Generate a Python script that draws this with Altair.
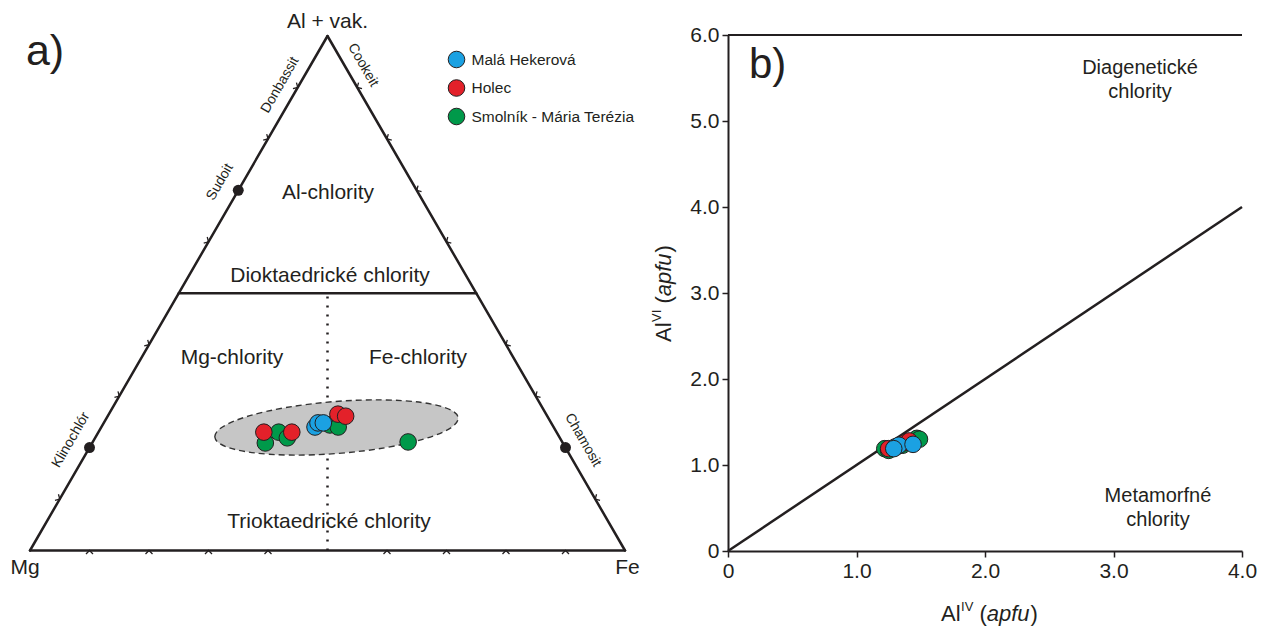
import altair as alt
import pandas as pd

# ---------------- data ----------------
sites = ["Malá Hekerová", "Holec", "Smolník - Mária Terézia"]
site_colors = ["#1ba1e2", "#e3212a", "#00994a"]

# panel a) ternary plot: fractions of (Al + vacancy) and Fe; Mg = 1 - Al - Fe
a_site = (["Smolník - Mária Terézia"] * 6 + ["Malá Hekerová"] * 3 + ["Holec"] * 4)
a_al = [0.209, 0.230, 0.219, 0.244, 0.240, 0.211, 0.240, 0.248, 0.248, 0.230, 0.230, 0.265, 0.261]
a_fe = [0.291, 0.303, 0.323, 0.382, 0.398, 0.530, 0.359, 0.360, 0.369, 0.278, 0.325, 0.385, 0.400]

# end members on the triangle edges
em_name = ["Sudoit", "Klinochlór", "Chamosit"]
em_al = [0.7, 0.2, 0.2]
em_fe = [0.0, 0.0, 0.8]

# edge graduation marks (fraction along each edge)
tick_left = [0.1, 0.3, 0.4, 0.6, 0.8, 0.9]
tick_right = [0.1, 0.3, 0.4, 0.6, 0.7, 0.8, 0.9]
tick_bottom = [0.1, 0.2, 0.3, 0.4, 0.6, 0.7, 0.8, 0.9]

# panel b) AlIV vs AlVI (apfu)
b_site = (["Smolník - Mária Terézia"] * 5 + ["Holec"] * 4 + ["Malá Hekerová"] * 4)
b_aliv = [1.22, 1.25, 1.36, 1.47, 1.49, 1.25, 1.38, 1.41, 1.30, 1.31, 1.33, 1.44, 1.29]
b_alvi = [1.19, 1.17, 1.23, 1.31, 1.30, 1.19, 1.26, 1.28, 1.21, 1.21, 1.23, 1.24, 1.19]

# ---------------- layout ----------------
FONT = "Liberation Sans"
INK = "#231f20"
PAD_L, PAD_T, W, H = 728, 35, 514, 516
PAD_R = 1269 - PAD_L - W
PAD_B = 628 - PAD_T - H
# where the ternary triangle sits on the page (pixels)
TRI_X0, TRI_X1, TRI_YB, TRI_YT = 30.0, 625.0, 550.5, 36.0
TW, TH = TRI_X1 - TRI_X0, TRI_YB - TRI_YT

xa_scale = alt.Scale(domain=[(PAD_L - TRI_X0) / TW, (PAD_L + W - TRI_X0) / TW], nice=False, zero=False)
ya_scale = alt.Scale(domain=[(TRI_YB - PAD_T - H) / TH, (TRI_YB - PAD_T) / TH], nice=False, zero=False)


def XA(f):
    return alt.X(f, type="quantitative", scale=xa_scale, axis=None)


def YA(f):
    return alt.Y(f, type="quantitative", scale=ya_scale, axis=None)


def tern(al, fe):
    return fe + al / 2.0, al


# samples
sx, sy = zip(*[tern(a, f) for a, f in zip(a_al, a_fe)])
df_a = pd.DataFrame({"site": a_site, "X": sx, "Y": sy})

ex, ey = zip(*[tern(a, f) for a, f in zip(em_al, em_fe)])
df_em = pd.DataFrame({"name": em_name, "X": ex, "Y": ey})

# triangle frame and boundaries
corners = {"Mg": tern(0, 0), "Fe": tern(0, 1), "Al": tern(1, 0)}
edges = pd.DataFrame([
    {"X": corners["Mg"][0], "Y": corners["Mg"][1], "X2": corners["Fe"][0], "Y2": corners["Fe"][1]},
    {"X": corners["Fe"][0], "Y": corners["Fe"][1], "X2": corners["Al"][0], "Y2": corners["Al"][1]},
    {"X": corners["Al"][0], "Y": corners["Al"][1], "X2": corners["Mg"][0], "Y2": corners["Mg"][1]},
    {"X": tern(0.5, 0)[0], "Y": 0.5, "X2": tern(0.5, 0.5)[0], "Y2": 0.5},
])
dotted = pd.DataFrame([{"X": 0.5, "Y": 0.0, "X2": 0.5, "Y2": 0.5}])

ticks = ([{"X": tern(a, 0)[0], "Y": a, "ang": 120} for a in tick_left]
         + [{"X": tern(a, 1 - a)[0], "Y": a, "ang": 240} for a in tick_right]
         + [{"X": f, "Y": 0.0, "ang": 0} for f in tick_bottom])
df_ticks = pd.DataFrame(ticks)

ell = pd.DataFrame([{"X": 0.5151, "Y": 0.2391}])
ELL_SHAPE = "M-1,0A1,0.213,0,0,1,1,0A1,0.213,0,0,1,-1,0Z"

labels_a = pd.DataFrame([
    {"t": "a)", "X": 0.0252, "Y": 0.969, "fs": 43, "ang": 0},
    {"t": "Al + vak.", "X": 0.5, "Y": 1.027, "fs": 21, "ang": 0},
    {"t": "Mg", "X": -0.0084, "Y": -0.034, "fs": 21, "ang": 0},
    {"t": "Fe", "X": 1.0042, "Y": -0.034, "fs": 21, "ang": 0},
    {"t": "Al-chlority", "X": 0.5008, "Y": 0.695, "fs": 21, "ang": 0},
    {"t": "Dioktaedrické chlority", "X": 0.5042, "Y": 0.534, "fs": 21, "ang": 0},
    {"t": "Mg-chlority", "X": 0.3395, "Y": 0.3741, "fs": 21, "ang": 0},
    {"t": "Fe-chlority", "X": 0.6521, "Y": 0.3741, "fs": 21, "ang": 0},
    {"t": "Trioktaedrické chlority", "X": 0.5025, "Y": 0.0555, "fs": 21, "ang": 0},
    {"t": "Donbassit", "X": 0.4202, "Y": 0.9047, "fs": 14, "ang": 300},
    {"t": "Cookeit", "X": 0.5597, "Y": 0.9436, "fs": 14, "ang": 60},
    {"t": "Sudoit", "X": 0.3193, "Y": 0.7162, "fs": 14, "ang": 300},
    {"t": "Klinochlór", "X": 0.0689, "Y": 0.2148, "fs": 14, "ang": 300},
    {"t": "Chamosit", "X": 0.9294, "Y": 0.2148, "fs": 14, "ang": 60},
])

fill_enc = alt.Fill(
    "site:N",
    scale=alt.Scale(domain=sites, range=site_colors),
    legend=alt.Legend(
        orient="none", legendX=447.5 - PAD_L, legendY=50.5 - PAD_T, title=None,
        symbolType="circle", symbolSize=275, symbolStrokeColor=INK, symbolStrokeWidth=1,
        symbolOpacity=1, labelFont=FONT, labelFontSize=15.5, labelColor=INK, labelLimit=400,
        rowPadding=6.5, labelOffset=6, padding=0,
    ),
)

lines_a = alt.Chart(edges).mark_rule(color=INK, strokeWidth=2.5, strokeCap="round").encode(
    x=XA("X"), y=YA("Y"), x2="X2", y2="Y2")
dots_a = alt.Chart(dotted).mark_rule(color=INK, strokeWidth=2.5, strokeDash=[2, 7]).encode(
    x=XA("X"), y=YA("Y"), x2="X2", y2="Y2")
ticks_a = alt.Chart(df_ticks).mark_point(
    shape="M-1,1L0,0L1,1", filled=False, size=49, stroke=INK, strokeWidth=1.3, opacity=1
).encode(x=XA("X"), y=YA("Y"), angle=alt.Angle("ang:Q", scale=None))
ellipse_a = alt.Chart(ell).mark_point(
    shape=ELL_SHAPE, size=244 ** 2, angle=355.5, filled=True, fill="#c6c6c6", stroke="#333333",
    strokeWidth=1.4, strokeDash=[6, 4], opacity=1
).encode(x=XA("X"), y=YA("Y"))
em_a = alt.Chart(df_em).mark_point(filled=True, size=120, color=INK, opacity=1).encode(
    x=XA("X"), y=YA("Y"))
pts_a = alt.Chart(df_a).mark_point(filled=True, size=275, stroke=INK, strokeWidth=1, opacity=1).encode(
    x=XA("X"), y=YA("Y"), fill=fill_enc)
text_a = alt.Chart(labels_a).mark_text(font=FONT, color=INK, align="center", baseline="middle").encode(
    x=XA("X"), y=YA("Y"), text="t:N",
    size=alt.Size("fs:Q", scale=None), angle=alt.Angle("ang:Q", scale=None))

panel_a = alt.layer(lines_a, dots_a, ticks_a, ellipse_a, em_a, pts_a, text_a)

# ---------------- panel b ----------------
LBL = "datum.value == 0 ? '0' : format(datum.value, '.1f')"
axis_common = dict(grid=False, title=None, domainColor=INK, domainWidth=2, tickColor=INK, tickWidth=1.5,
                   tickSize=6, labelFont=FONT, labelFontSize=21, labelColor=INK, labelExpr=LBL,
                   labelOverlap=False, labelFlush=False)
xb_scale = alt.Scale(domain=[0, 4], nice=False, zero=False)
yb_scale = alt.Scale(domain=[0, 6], nice=False, zero=False)


def XB(f):
    return alt.X(f, type="quantitative", scale=xb_scale,
                 axis=alt.Axis(orient="bottom", values=[0, 1, 2, 3, 4], labelPadding=3, **axis_common))


def YB(f):
    return alt.Y(f, type="quantitative", scale=yb_scale,
                 axis=alt.Axis(orient="left", values=[0, 1, 2, 3, 4, 5, 6], labelPadding=3, **axis_common))


df_b = pd.DataFrame({"site": b_site, "bx": b_aliv, "by": b_alvi})
diag = pd.DataFrame([{"bx": 0.0, "by": 0.0, "bx2": 4.0, "by2": 4.0}])
frame_top = pd.DataFrame([{"bx": 0.0, "by": 6.0, "bx2": 4.0, "by2": 6.0}])
labels_b = pd.DataFrame([
    {"t": "Diagenetické", "bx": 3.206, "by": 5.616},
    {"t": "chlority", "bx": 3.206, "by": 5.337},
    {"t": "Metamorfné", "bx": 3.346, "by": 0.640},
    {"t": "chlority", "bx": 3.346, "by": 0.360},
])
tag_b = pd.DataFrame([{"t": "b)", "bx": 0.163, "by": 5.5}])

diag_b = alt.Chart(diag).mark_rule(color=INK, strokeWidth=2.5).encode(
    x=XB("bx"), y=YB("by"), x2="bx2", y2="by2")
top_b = alt.Chart(frame_top).mark_rule(color=INK, strokeWidth=2).encode(
    x=XB("bx"), y=YB("by"), x2="bx2", y2="by2")
pts_b = alt.Chart(df_b).mark_point(filled=True, size=275, stroke=INK, strokeWidth=1, opacity=1).encode(
    x=XB("bx"), y=YB("by"), fill=fill_enc)
text_b = alt.Chart(labels_b).mark_text(font=FONT, fontSize=20, color=INK, align="center", baseline="middle").encode(
    x=XB("bx"), y=YB("by"), text="t:N")
tagb = alt.Chart(tag_b).mark_text(font=FONT, fontSize=42, color=INK, align="left", baseline="alphabetic").encode(
    x=XB("bx"), y=YB("by"), text="t:N")

ONE = pd.DataFrame({"k": [0]})


def piece(txt, x, y, size, italic=False, angle=0):
    return alt.Chart(ONE).mark_text(
        text=txt, font=FONT, fontSize=size, fontStyle="italic" if italic else "normal",
        color=INK, align="left", baseline="alphabetic", angle=angle
    ).encode(x=alt.value(x), y=alt.value(y))


# axis titles: Al^IV (apfu) and Al^VI (apfu)
TF, SF, RAISE = 22, 13, 10
w_al, w_sup, w_sp, w_par, w_apfu = 0.889 * TF + 0.5, 0.945 * SF, 0.278 * TF, 0.333 * TF, 1.946 * TF + 1
x0, yb0 = 213, 585.5
xt = [
    piece("Al", x0, yb0, TF),
    piece("IV", x0 + w_al, yb0 - RAISE, SF),
    piece("(", x0 + w_al + w_sup + w_sp, yb0, TF),
    piece("apfu", x0 + w_al + w_sup + w_sp + w_par, yb0, TF, italic=True),
    piece(")", x0 + w_al + w_sup + w_sp + w_par + w_apfu, yb0, TF),
]
xb0, y0 = -57.5, 307
yt = [
    piece("Al", xb0, y0, TF, angle=270),
    piece("VI", xb0 - RAISE, y0 - w_al, SF, angle=270),
    piece("(", xb0, y0 - (w_al + w_sup + w_sp), TF, angle=270),
    piece("apfu", xb0, y0 - (w_al + w_sup + w_sp + w_par), TF, italic=True, angle=270),
    piece(")", xb0, y0 - (w_al + w_sup + w_sp + w_par + w_apfu), TF, angle=270),
]

panel_b = alt.layer(top_b, diag_b, pts_b, text_b, tagb, *xt, *yt)

chart = alt.layer(panel_a, panel_b).resolve_scale(x="independent", y="independent").properties(
    width=W, height=H,
    autosize=alt.AutoSizeParams(type="none"),
    padding={"left": PAD_L, "top": PAD_T, "right": PAD_R, "bottom": PAD_B},
    background="white",
).configure_view(strokeWidth=0)

chart.save("out.html", embed_options={"renderer": "svg", "actions": False})
